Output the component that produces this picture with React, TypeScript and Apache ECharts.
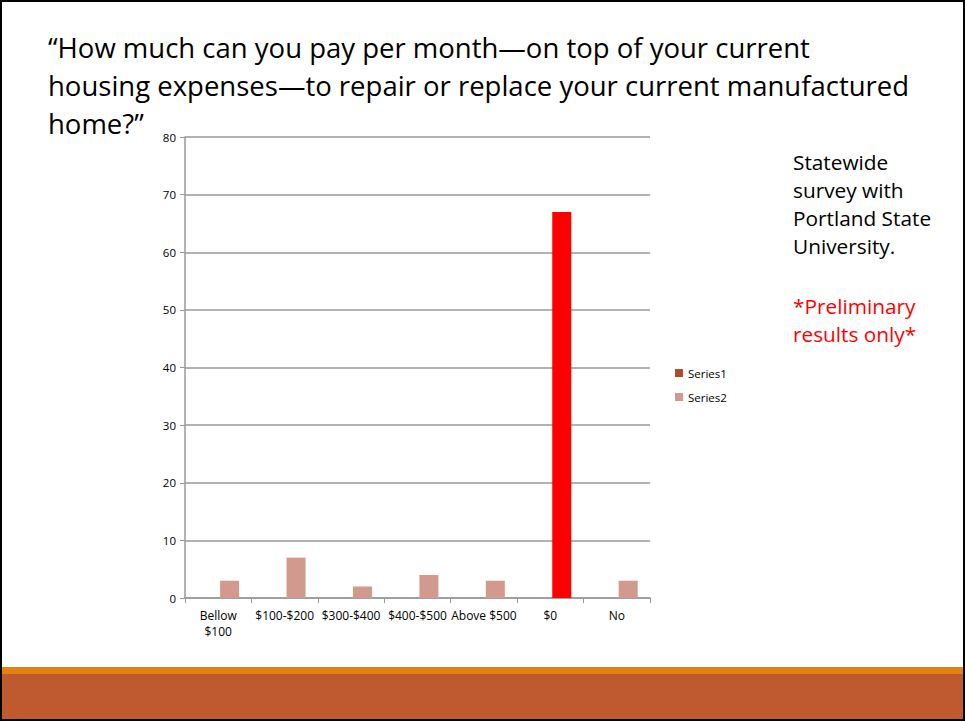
import React, { useEffect, useRef } from "react";
import * as echarts from "echarts";

const categories = ["Bellow\n$100", "$100-$200", "$300-$400", "$400-$500", "Above $500", "$0", "No"];
const series1Values: (number | null)[] = [null, null, null, null, null, null, null];
const series2Values = [3, 7, 2, 4, 3, 67, 3];
const highlightCategory = "$0";
const yTicks = { min: 0, max: 80, interval: 10 };
const titleLines = [
  "\u201cHow much can you pay per month\u2014on top of your current",
  "housing expenses\u2014to repair or replace your current manufactured",
  "home?\u201d",
];
const noteLines = ["Statewide", "survey with", "Portland State", "University."];
const warnLines = ["*Preliminary", "results only*"];

export default function App() {
  const ref = useRef<HTMLDivElement>(null);
  useEffect(() => {
    document.body.style.margin = "0";
    const chart = echarts.init(ref.current!, undefined, { renderer: "svg" });
    const font = "'Open Sans', 'Noto Sans', sans-serif";
    const graphics: any[] = [
      { type: "rect", shape: { x: 0, y: 667, width: 965, height: 7 }, style: { fill: "#E38213" }, z: 1 },
      { type: "rect", shape: { x: 0, y: 674, width: 965, height: 47 }, style: { fill: "#BE5A2D" }, z: 1 },
      { type: "rect", shape: { x: 1, y: 1, width: 963, height: 719 }, style: { fill: "none", stroke: "#000", lineWidth: 2 }, z: 10 },
    ];
    titleLines.forEach((t, i) => {
      graphics.push({
        type: "text", x: 48, y: 47 + i * 38,
        style: { text: t, fontSize: 27.5, fontFamily: font, fill: "#000", verticalAlign: "middle" },
      });
    });
    noteLines.forEach((t, i) => {
      graphics.push({
        type: "text", x: 793, y: 162 + i * 28,
        style: { text: t, fontSize: 20.8, fontFamily: font, fill: "#000", verticalAlign: "middle" },
      });
    });
    warnLines.forEach((t, i) => {
      graphics.push({
        type: "text", x: 793, y: 306 + i * 28,
        style: { text: t, fontSize: 20.8, fontFamily: font, fill: "#FF0000", verticalAlign: "middle" },
      });
    });
    chart.setOption({
      animation: false,
      grid: { left: 185, right: 315, top: 137, bottom: 123 },
      legend: {
        orient: "vertical", left: 670, top: 362, itemWidth: 8, itemHeight: 8, itemGap: 12,
        textStyle: { fontSize: 11.5, fontFamily: "'Open Sans', sans-serif", color: "#000" },
        data: [
          { name: "Series1", icon: "rect" },
          { name: "Series2", icon: "rect" },
        ],
      },
      xAxis: {
        type: "category", data: categories,
        axisLine: { lineStyle: { color: "#999", width: 1.5 } },
        axisTick: { show: true, length: 5, lineStyle: { color: "#999" } },
        axisLabel: { fontSize: 12, color: "#000", fontFamily: "'Open Sans', sans-serif", interval: 0, margin: 9, lineHeight: 16 },
      },
      yAxis: {
        type: "value", min: yTicks.min, max: yTicks.max, interval: yTicks.interval,
        axisLine: { show: true, lineStyle: { color: "#999", width: 1.5 } },
        axisTick: { show: true, length: 5, lineStyle: { color: "#999" } },
        splitLine: { lineStyle: { color: "#999", width: 1.5 } },
        axisLabel: { fontSize: 11.5, color: "#000", fontFamily: "'Open Sans', sans-serif", margin: 9 },
      },
      series: [
        { name: "Series1", type: "bar", data: series1Values, barWidth: 19, barGap: "20%", itemStyle: { color: "#A9502A" } },
        {
          name: "Series2", type: "bar", barWidth: 19, barGap: "20%", itemStyle: { color: "#D29A8E" },
          data: series2Values.map((v, i) =>
            categories[i] === highlightCategory ? { value: v, itemStyle: { color: "#FF0000" } } : v
          ),
        },
      ],
      graphic: graphics,
    });
    return () => chart.dispose();
  }, []);
  return <div ref={ref} style={{ width: 965, height: 721, position: "absolute", left: 0, top: 0 }} />;
}
